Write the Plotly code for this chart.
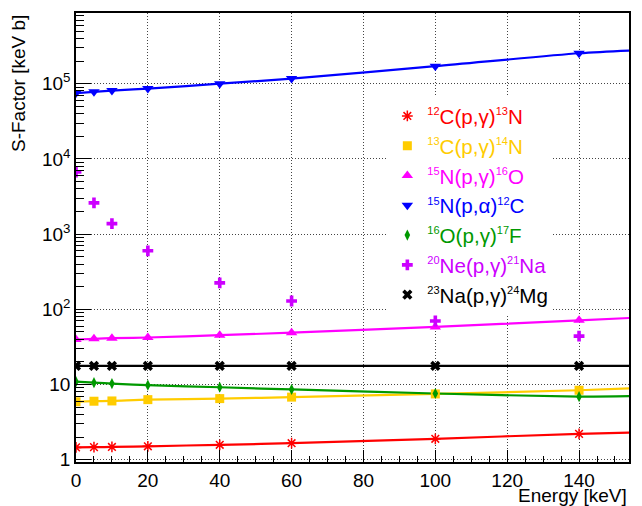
import plotly.graph_objects as go

energy = [0, 5, 10, 20, 40, 60, 100, 140]
fit_end_energy = 154

SUP = "<sup><span style='font-size:11px'>{}</span></sup>"
names = [
    SUP.format("12") + "C(p,γ)" + SUP.format("13") + "N",
    SUP.format("13") + "C(p,γ)" + SUP.format("14") + "N",
    SUP.format("15") + "N(p,γ)" + SUP.format("16") + "O",
    SUP.format("15") + "N(p,α)" + SUP.format("12") + "C",
    SUP.format("16") + "O(p,γ)" + SUP.format("17") + "F",
    SUP.format("20") + "Ne(p,γ)" + SUP.format("21") + "Na",
    SUP.format("23") + "Na(p,γ)" + SUP.format("24") + "Mg",
]

S_12C_pg = [1.46, 1.47, 1.48, 1.51, 1.58, 1.66, 1.90, 2.21]
S_13C_pg = [5.9, 6.0, 6.05, 6.3, 6.5, 6.8, 7.5, 8.4]
S_15N_pg = [39.7, 40.5, 41.3, 42.2, 45.3, 49.0, 58.3, 71.5]
S_15N_pa = [7.5e4, 7.8e4, 8.1e4, 8.6e4, 1.0e5, 1.17e5, 1.71e5, 2.54e5]
S_16O_pg = [10.9, 10.6, 10.3, 9.8, 9.2, 8.6, 7.6, 6.9]
S_20Ne_pg = [6700, 2600, 1380, 600, 225, 129, 70, 44]
S_23Na_pg = [17.7, 17.7, 17.7, 17.7, 17.7, 17.7, 17.7, 17.7]

# fitted-curve values at the right edge of the plot (154 keV); None = no fit line
fit_end = [2.3, 8.9, 76.7, 2.76e5, 7.0, None, 17.7]

series = [S_12C_pg, S_13C_pg, S_15N_pg, S_15N_pa, S_16O_pg, S_20Ne_pg, S_23Na_pg]
colors = ["#ff0000", "#ffcc00", "#ff00ff", "#0000ff", "#009900", "#cc00ff", "#000000"]
symbols = ["asterisk-open", "square", "triangle-up", "triangle-down",
           "diamond-tall", "cross", "x"]
sizes = [9, 9, 10, 10, 8, 9, 9]

y_tickvals = [1, 10, 100, 1000, 10000, 100000]
y_ticktext = ["1", "10", "10<sup>2</sup>", "10<sup>3</sup>", "10<sup>4</sup>", "10<sup>5</sup>"]
x_tickvals = [0, 20, 40, 60, 80, 100, 120, 140]

fig = go.Figure()

# fit lines
for s, fe, c in zip(series, fit_end, colors):
    if fe is None:
        continue
    fig.add_trace(go.Scatter(
        x=energy + [fit_end_energy], y=s + [fe], mode="lines",
        line=dict(color=c, width=2.2, shape="spline", smoothing=0.8),
        showlegend=False, hoverinfo="skip"))

# data markers
for s, n, c, sym, sz in zip(series, names, colors, symbols, sizes):
    mk = dict(color=c, symbol=sym, size=sz)
    if sym == "asterisk-open":
        mk["line"] = dict(color=c, width=1.5)
    else:
        mk["line"] = dict(color=c, width=0)
    fig.add_trace(go.Scatter(
        x=energy, y=s, mode="markers", marker=mk,
        name=f"<span style='color:{c}'>{n}</span>"))

minor_y = [m * 10 ** e for e in range(0, 6) for m in range(2, 10)]
minor_x = [v for v in range(5, 155, 5) if v % 20 != 0]

fig.update_layout(
    width=642, height=506,
    margin=dict(l=76, r=11, t=12, b=44),
    paper_bgcolor="white", plot_bgcolor="white",
    font=dict(family="Liberation Sans, Arial, sans-serif", size=19, color="black"),
    legend=dict(x=0.563, y=0.815, xanchor="left", yanchor="top",
                bgcolor="white", borderwidth=0,
                font=dict(size=20.6), itemsizing="trace", tracegroupgap=0),
    showlegend=True,
)

grid_dash = "1px,2px"
fig.update_xaxes(
    range=[0, 153.9], showline=True, mirror=True, linecolor="black", linewidth=1.5,
    tickmode="array", tickvals=x_tickvals, ticks="inside", ticklen=12,
    tickcolor="black", tickwidth=1.2,
    showgrid=True, gridcolor="#444444", griddash=grid_dash, gridwidth=1,
    zeroline=False, tickfont=dict(size=19),
    minor=dict(tickmode="array", tickvals=minor_x, ticks="inside", ticklen=6,
               tickcolor="black", showgrid=False),
)
fig.update_yaxes(
    type="log", range=[-0.03, 5.94], showline=True, mirror=True,
    linecolor="black", linewidth=1.5,
    tickmode="array", tickvals=y_tickvals, ticktext=y_ticktext,
    ticks="inside", ticklen=15, tickcolor="black", tickwidth=1.2,
    showgrid=True, gridcolor="#444444", griddash=grid_dash, gridwidth=1,
    zeroline=False, tickfont=dict(size=19),
    minor=dict(tickmode="array", tickvals=minor_y, ticks="inside", ticklen=8,
               tickcolor="black", showgrid=False),
)

fig.add_annotation(text="S-Factor [keV b]", xref="paper", yref="paper",
                   x=-0.104, y=1.0, xanchor="center", yanchor="top", textangle=-90,
                   showarrow=False, font=dict(size=19))
fig.add_annotation(text="Energy [keV]", xref="paper", yref="paper",
                   x=1.0, y=-0.046, xanchor="right", yanchor="top",
                   showarrow=False, font=dict(size=19))

fig.write_html("out.html", config={"displayModeBar": False},
               post_script="document.body.style.margin='0';document.body.style.padding='0';")
